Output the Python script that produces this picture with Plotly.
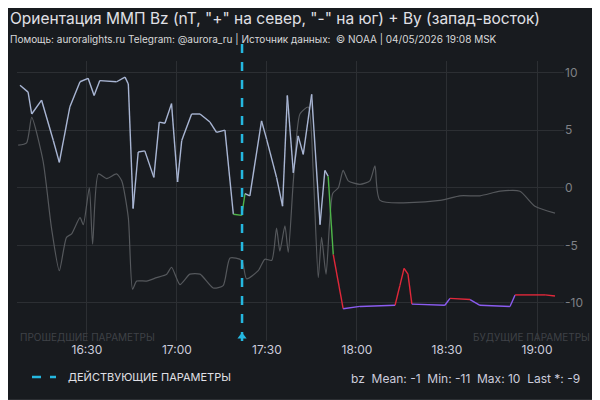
import plotly.graph_objects as go
import pandas as pd

base = pd.Timestamp("2026-04-05 16:30")

bz_min = [-22.3,-19.6,-18.4,-15.1,-11.2,-9.2,-5.7,-2.3,0.4,2.4,4.3,9.9,12.7,13.8,15.4,17.1,19.3,22.3,24.1,26,28.2,30.2,31.6,34.9,37.7,41,43.2,46,48.8,51.6,52.7,54.3,58.2,59.9,63.2,65.2,66.8,68.8,70.4,72.1,74.9,77.7,79.3,80.4,82.1,85.4,91,102.7,104.3,105.7,107,108.3,119.3,121,127.7,131,141,142.7,152.7,156]
bz_val = [8.9,8.3,6.4,7.6,4.1,2.2,7.0,9.2,9.5,8.0,9.3,9.2,9.6,9.0,-1.8,3.1,3.2,0.9,5.7,5.6,7.3,0.5,4.1,6.4,6.4,5.7,4.8,5.0,-2.3,-2.4,-0.5,-0.7,5.8,4.2,0.9,-1.6,8.0,1.3,4.5,2.9,8.1,-3.2,1.5,1.0,-5.8,-10.5,-10.3,-10.2,-8.5,-7.0,-7.5,-10.1,-10.2,-9.6,-9.7,-10.2,-10.3,-9.3,-9.3,-9.4]

by_min = [-22.9,-20.1,-18.4,-14.6,-11.8,-9.2,-6.8,-5.1,-2.3,-1.2,0.8,1.9,3.8,6.6,9.9,11.6,13.8,15.2,16.6,19.9,23.2,26.6,28.2,31,34.3,37.7,42.1,45.4,47.7,51.6,53.2,57.1,59.3,61.6,63.2,64.3,66,67.1,68.8,71,73.8,75.4,77.1,78.2,79.7,81.9,83.8,85.4,87.1,91,94.3,96,97.7,117.7,124.3,131,137.7,144.3,149.3,156]
by_val = [3.7,3.9,6.1,2.3,-3.5,-7.2,-4.3,-4.0,-2.6,-3.2,0.0,-4.9,1.2,0.8,1.2,0.6,-2.6,-8.8,-8.1,-8.1,-7.8,-7.5,-6.9,-8.4,-7.5,-7.5,-8.7,-8.5,-6.1,-6.3,-7.9,-7.2,-6.2,-6.3,-3.5,-5.5,-3.3,-5.6,0.6,6.4,7.0,1.5,-7.8,-4.3,-7.5,-0.5,0.0,1.5,0.6,0.3,0.6,1.9,-1.1,-1.1,-0.7,-0.7,-0.3,-0.3,-1.6,-2.2]

now_min = 51.7
x_ticks = ["16:30","17:00","17:30","18:00","18:30","19:00"]
y_ticks = [10,5,0,-5,-10]

L, R, TOP, B = 9, 44, 53, 67
PW, PH = 600 - L - R, 400 - TOP - B
OFFX, OFFY = 8, 7  # observed render offset

def T(m):
    return base + pd.Timedelta(minutes=m)

def px(x): return (x - OFFX - L) / PW
def py(y): return 1 - (y - OFFY - TOP) / PH

def col(v):
    if v > -1: return "#a9b6d4"
    if v > -3: return "#4fb64a"
    if v > -5: return "#e0b43a"
    if v > -6.5: return "#f07a2a"
    if v > -9.8: return "#e0283a"
    return "#8b5cf0"

fig = go.Figure()
fig.add_trace(go.Scatter(x=[T(m) for m in by_min], y=by_val, mode="lines",
                         line=dict(color="#55585c", width=1.2, shape="spline", smoothing=0.6),
                         hoverinfo="skip", showlegend=False))
for i in range(len(bz_min)-1):
    c = col((bz_val[i]+bz_val[i+1])/2)
    fig.add_trace(go.Scatter(x=[T(bz_min[i]), T(bz_min[i+1])], y=[bz_val[i], bz_val[i+1]],
                             mode="lines", line=dict(color=c, width=1.4), showlegend=False, hoverinfo="skip"))
fig.add_shape(type="line", x0=T(now_min), x1=T(now_min), y0=0, y1=py(40), yref="paper",
              line=dict(color="#25b8e0", width=2.5, dash="dash"))
fig.add_trace(go.Scatter(x=[T(now_min)], y=[-12.9], mode="markers",
                         marker=dict(symbol="triangle-up", size=8, color="#25b8e0"), showlegend=False))

def ann(text, x, y, xa, ya, size, color):
    return dict(text=text, x=px(x), y=py(y), xref="paper", yref="paper", xanchor=xa, yanchor=ya,
                showarrow=False, font=dict(size=size, color=color))

fig.update_layout(
    width=600, height=400, paper_bgcolor="#181b1f", plot_bgcolor="#181b1f",
    margin=dict(l=L, r=R, t=TOP, b=B),
    font=dict(family="Inter, Roboto, sans-serif", color="#ccccdc"),
    xaxis=dict(type="date", range=[T(-23.3), T(159)], tickvals=[T(30*i) for i in range(6)],
               ticktext=x_ticks, showgrid=True, gridcolor="#2c2f33", zeroline=False, automargin=False,
               tickfont=dict(size=12, color="#ccccdc"), ticks="", showline=False),
    yaxis=dict(side="right", range=[-13.3, 11.0], tickvals=y_ticks, ticktext=[str(v) for v in y_ticks],
               showgrid=True, gridcolor="#2c2f33", zeroline=False, automargin=False,
               tickfont=dict(size=12, color="#7f8186"), ticks="", showline=False),
    annotations=[
        ann('Ориентация ММП Bz (nT, "+" на север, "-" на юг) + By (запад-восток)', 8, 17, "left", "middle", 15.5, "#e0e0e6"),
        ann("Помощь: auroralights.ru Telegram: @aurora_ru | Источник данных:  © NOAA | 04/05/2026 19:08 MSK",
            8, 38, "left", "middle", 10, "#d8d9da"),
        ann("ПРОШЕДШИЕ ПАРАМЕТРЫ", 18, 336, "left", "middle", 10, "#3f4247"),
        ann("БУДУЩИЕ ПАРАМЕТРЫ", 592, 336, "right", "middle", 10, "#3f4247"),
        ann("ДЕЙСТВУЮЩИЕ ПАРАМЕТРЫ", 66, 376, "left", "middle", 11, "#e0e0e6"),
        ann("bz  Mean: -1  Min: -11  Max: 10  Last *: -9", 582, 377, "right", "middle", 12, "#ccccdc"),
    ],
)
fig.add_shape(type="line", xref="paper", yref="paper", x0=px(32), x1=px(56), y0=py(376), y1=py(376),
              line=dict(color="#25b8e0", width=2.5, dash="dash"))
fig.add_shape(type="rect", xref="paper", yref="paper", x0=px(1), x1=px(599), y0=py(399), y1=py(1),
              line=dict(color="#2c2f33", width=2))
fig.write_html("out.html")
